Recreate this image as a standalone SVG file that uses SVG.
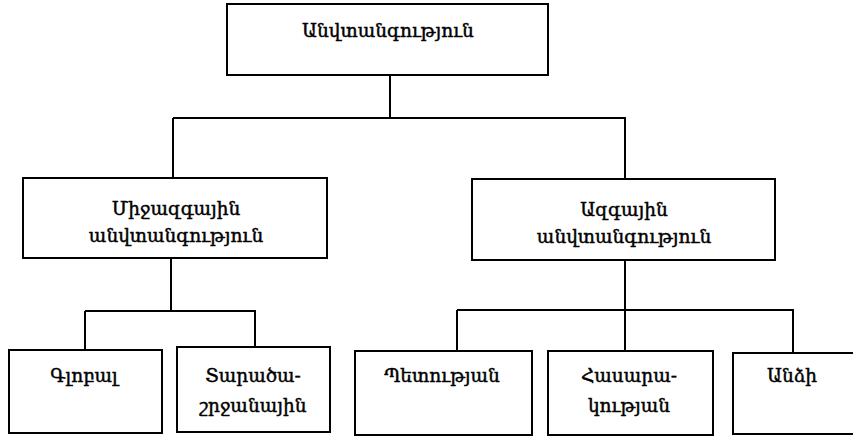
<svg xmlns="http://www.w3.org/2000/svg" width="853" height="436" viewBox="0 0 853 436">
<style>
rect{fill:#fff;stroke:#000;stroke-width:2}
line{stroke:#000;stroke-width:2}
text{font-family:"DejaVu Serif","Noto Serif",serif;font-size:18.5px;fill:#000;stroke:#000;stroke-width:0.45;text-anchor:middle}
</style>
<rect x="0" y="0" width="853" height="436" style="stroke:none"/>
<g id="connectors">
<line x1="390" y1="75" x2="390" y2="118"/>
<line x1="173" y1="118" x2="626" y2="118"/>
<line x1="173" y1="118" x2="173" y2="178"/>
<line x1="625" y1="118" x2="625" y2="179"/>
<line x1="171" y1="258" x2="171" y2="311"/>
<line x1="85" y1="311" x2="256" y2="311"/>
<line x1="85" y1="311" x2="85" y2="350"/>
<line x1="255" y1="311" x2="255" y2="347"/>
<line x1="625" y1="260" x2="625" y2="351"/>
<line x1="457" y1="310" x2="794" y2="310"/>
<line x1="457" y1="310" x2="457" y2="351"/>
<line x1="793" y1="310" x2="793" y2="353"/>
</g>
<g id="n-root"><rect x="227" y="4" width="321" height="71"/><text x="388" y="37">Անվտանգություն</text></g>
<g id="n-intl"><rect x="23" y="178" width="304" height="80"/><text x="176" y="215">Միջազգային</text><text x="176" y="242">անվտանգություն</text></g>
<g id="n-natl"><rect x="472" y="179" width="303" height="81"/><text x="624" y="216">Ազգային</text><text x="624" y="243">անվտանգություն</text></g>
<g id="n-global"><rect x="9" y="350" width="153" height="83"/><text x="84" y="382">Գլոբալ</text></g>
<g id="n-regional"><rect x="177" y="347" width="153" height="85"/><text x="253" y="382">Տարածա-</text><text x="253" y="412">շրջանային</text></g>
<g id="n-state"><rect x="355" y="351" width="177" height="84"/><text x="442" y="382">Պետության</text></g>
<g id="n-society"><rect x="548" y="351" width="165" height="84"/><text x="629" y="382">Հասարա-</text><text x="629" y="412">կության</text></g>
<g id="n-person"><rect x="733" y="353" width="125" height="81"/><text x="792" y="382">Անձի</text></g>
</svg>
